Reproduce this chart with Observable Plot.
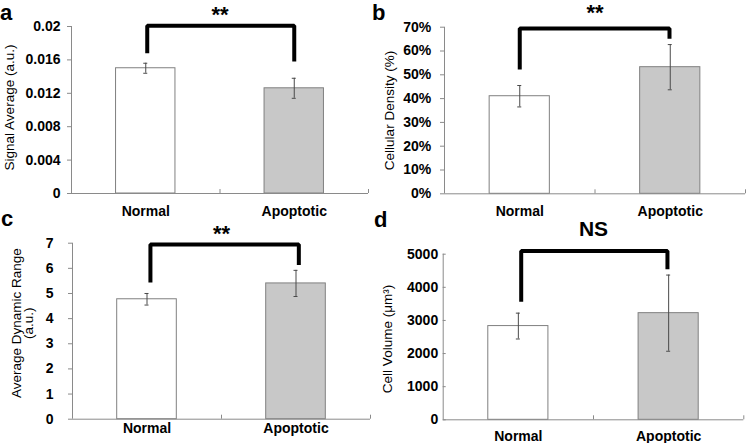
<!DOCTYPE html>
<html><head><meta charset="utf-8">
<script src="https://cdn.jsdelivr.net/npm/d3@7"></script>
<script src="https://cdn.jsdelivr.net/npm/@observablehq/plot@0.6"></script>
<style>
body{margin:0;background:#fff;}
#wrap{position:relative;width:748px;height:443px;overflow:hidden;font-family:"Liberation Sans",Arial,sans-serif;}
.panel{position:absolute;}
.letter{position:absolute;font-weight:bold;font-size:22px;line-height:22px;color:#000;}
</style></head><body><div id="wrap"></div>
<script>
// ---- data ----
const categories = ["Normal", "Apoptotic"];

const signalMean = [0.0150, 0.0126];
const signalErr = [0.0006, 0.0012];
const signalTicks = [0, 0.004, 0.008, 0.012, 0.016, 0.02];
const signalBracketX = [0.51, 0.51, 1.5, 1.5];
const signalBracketY = [0.0168, 0.0201, 0.0201, 0.0158];

const densityMean = [0.41, 0.532];
const densityErr = [0.045, 0.095];
const densityTicks = [0, 0.1, 0.2, 0.3, 0.4, 0.5, 0.6, 0.7];
const densityBracketX = [0.50, 0.50, 1.495, 1.495];
const densityBracketY = [0.522, 0.695, 0.695, 0.651];

const rangeMean = [4.77, 5.40];
const rangeErr = [0.23, 0.52];
const rangeTicks = [0, 1, 2, 3, 4, 5, 6, 7];
const rangeBracketX = [0.523, 0.523, 1.519, 1.519];
const rangeBracketY = [5.44, 6.95, 6.95, 6.13];

const volumeMean = [2830, 3220];
const volumeErr = [390, 1150];
const volumeTicks = [0, 1000, 2000, 3000, 4000, 5000];
const volumeBracketX = [0.519, 0.519, 1.492, 1.492];
const volumeBracketY = [3563, 5100, 5100, 4547];

const letters = ["a", "b", "c", "d"];
const significance = ["**", "**", "**", "NS"];
const titles = ["Signal Average (a.u.)", "Cellular Density (%)", "Average Dynamic Range\n(a.u.)", "Cell Volume (\u03bcm\u00b3)"];

// ---- styles / layout ----
const AXIS = "#8a8a8a";
const FILLS = ["#ffffff", "#c8c8c8"];
const BAR_STROKE = "#808080";
const ERR = "#4a4a4a";
const FONT = "'Liberation Sans', Arial, sans-serif";

const panels = [
  {mean: signalMean, err: signalErr, ticks: signalTicks, fmt: d => String(d), domain: [0, 0.02],
   bx: signalBracketX, by: signalBracketY, sig: significance[0], title: titles[0], letter: letters[0],
   L: {left: 0, top: 0, height: 222, mL: 71, mR: 6, mT: 26, mB: 29, tickSize: 4, tickPad: 7, xPad: 12.3,
       sigDy: -11.5, sigSize: 22, titleDx: -61.5, titleDy: -2.5, letterX: 0, letterY: 1.5}},
  {mean: densityMean, err: densityErr, ticks: densityTicks, fmt: d3.format(".0%"), domain: [0, 0.7],
   bx: densityBracketX, by: densityBracketY, sig: significance[1], title: titles[1], letter: letters[1],
   L: {left: 374, top: 0, height: 222, mL: 70, mR: 3, mT: 26.7, mB: 28.7, tickSize: 4, tickPad: 9.3, xPad: 12,
       sigDy: -14.5, sigSize: 22, titleDx: -54, titleDy: 0, letterX: 372, letterY: 1.5}},
  {mean: rangeMean, err: rangeErr, ticks: rangeTicks, fmt: d => String(d), domain: [0, 7],
   bx: rangeBracketX, by: rangeBracketY, sig: significance[2], title: titles[2], letter: letters[2],
   L: {left: 0, top: 222, height: 221, mL: 72, mR: 4, mT: 20.7, mB: 24.3, tickSize: 4, tickPad: 15, xPad: 3.5,
       sigDy: -9.5, sigSize: 22, titleDx: -49, titleDy: -8, letterX: 1, letterY: 208.4}},
  {mean: volumeMean, err: volumeErr, ticks: volumeTicks, fmt: d => String(d), domain: [0, 5000],
   bx: volumeBracketX, by: volumeBracketY, sig: significance[3], title: titles[3], letter: letters[3],
   L: {left: 374, top: 222, height: 221, mL: 68.7, mR: 4.7, mT: 31.7, mB: 23.7, tickSize: -3, tickPad: 8, xPad: 11.3,
       sigDy: -25.4, sigSize: 21, titleDx: -55, titleDy: 2, letterX: 374, letterY: 209.4}}
];

const wrap = document.getElementById("wrap");

for (const p of panels) {
  const L = p.L;
  const width = 374;
  const step = (width - L.mL - L.mR) / categories.length;
  const barInset = 0.3 * step;
  const rows = categories.map((c, i) => ({c, i, m: p.mean[i], e: p.err[i]}));
  const bracket = p.bx.map((x, k) => ({x, y: p.by[k]}));

  const chart = Plot.plot({
    width, height: L.height,
    marginLeft: L.mL, marginRight: L.mR, marginTop: L.mT, marginBottom: L.mB,
    style: {fontFamily: FONT, fontSize: "14px", fontWeight: "bold", color: "black", background: "transparent", overflow: "visible"},
    x: {domain: [0, categories.length], axis: null},
    y: {domain: p.domain, axis: null},
    color: {domain: categories, range: FILLS},
    marks: [
      Plot.rect(rows, {x1: "i", x2: d => d.i + 1, y1: 0, y2: "m", insetLeft: barInset, insetRight: barInset,
        fill: "c", stroke: BAR_STROKE, strokeWidth: 1}),
      Plot.ruleX(rows, {x: d => d.i + 0.5, y1: d => d.m - d.e, y2: d => d.m + d.e, stroke: ERR, strokeWidth: 1}),
      Plot.ruleY(rows, {x1: d => d.i + 0.5, x2: d => d.i + 0.5, y: d => d.m + d.e, insetLeft: -2, insetRight: -2, stroke: ERR}),
      Plot.ruleY(rows, {x1: d => d.i + 0.5, x2: d => d.i + 0.5, y: d => d.m - d.e, insetLeft: -2, insetRight: -2, stroke: ERR}),
      Plot.ruleX([0], {stroke: AXIS}),
      Plot.ruleY([0], {stroke: AXIS}),
      Plot.ruleX(d3.range(1, categories.length + 1), {y1: 0, y2: 0, insetTop: -4, stroke: AXIS}),
      Plot.axisY({ticks: p.ticks, tickFormat: p.fmt, tickSize: L.tickSize, tickPadding: L.tickPad,
        stroke: AXIS, fill: "black", fontWeight: "bold", fontSize: 14, label: null}),
      Plot.axisX({ticks: categories.map((c, i) => i + 0.5), tickFormat: t => categories[Math.floor(t)],
        tickSize: 0, tickPadding: L.xPad, fill: "black", fontWeight: "bold", fontSize: 14, label: null}),
      Plot.line(bracket, {x: "x", y: "y", stroke: "black", strokeWidth: 4, strokeLinejoin: "miter", strokeLinecap: "butt"}),
      Plot.text([p.sig], {x: categories.length / 2, frameAnchor: "top", dy: L.sigDy, text: d => d,
        fontSize: L.sigSize, fontWeight: "bold", lineAnchor: "middle", fill: "black"}),
      Plot.text([p.title], {frameAnchor: "left", rotate: -90, dx: L.titleDx, dy: L.titleDy, text: d => d,
        fontSize: 13.5, fontWeight: "normal", lineAnchor: "middle", textAnchor: "middle", lineHeight: 0.9, fill: "black"})
    ]
  });
  const div = document.createElement("div");
  div.className = "panel";
  div.style.left = L.left + "px";
  div.style.top = L.top + "px";
  div.appendChild(chart);
  wrap.appendChild(div);

  const lt = document.createElement("div");
  lt.className = "letter";
  lt.textContent = p.letter;
  lt.style.left = L.letterX + "px";
  lt.style.top = L.letterY + "px";
  wrap.appendChild(lt);
}
</script></body></html>
